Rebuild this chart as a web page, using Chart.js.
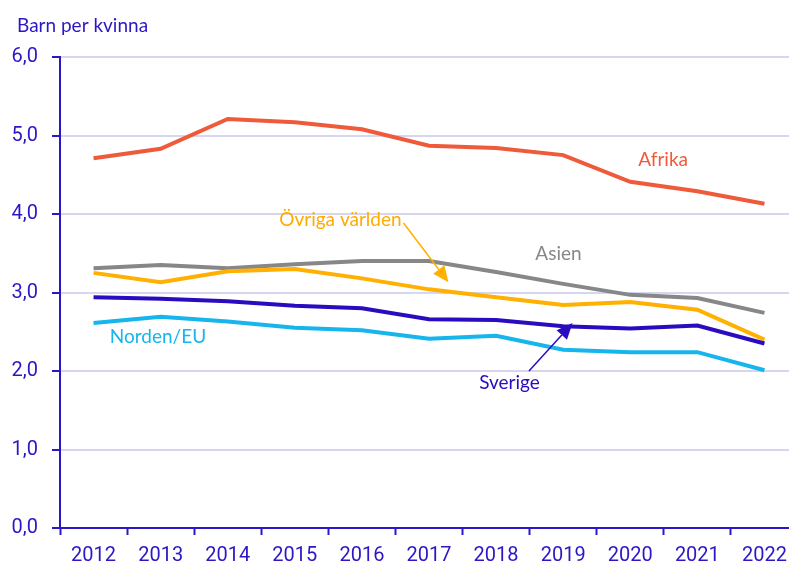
<!DOCTYPE html>
<html lang="sv">
<head>
    <meta charset="UTF-8">
    <title>Barn per kvinna</title>
    <script src="https://cdn.jsdelivr.net/npm/chart.js"></script>
    <style>
        html, body {
            margin: 0;
            padding: 0;
            background: #fff;
            overflow: hidden;
            width: 789px;
            height: 568px;
        }
        canvas { display: block; }
    </style>
</head>
<body>
    <canvas id="myChart" width="798" height="568"></canvas>

    <script>
        const years = ['2012', '2013', '2014', '2015', '2016', '2017', '2018', '2019', '2020', '2021', '2022'];
        const yTicks = [0, 1, 2, 3, 4, 5, 6];

        const afrika = [4.71, 4.83, 5.21, 5.17, 5.08, 4.87, 4.84, 4.75, 4.41, 4.29, 4.13];
        const asien = [3.31, 3.35, 3.31, 3.36, 3.40, 3.40, 3.26, 3.11, 2.97, 2.93, 2.74];
        const ovriga = [3.25, 3.13, 3.27, 3.30, 3.18, 3.04, 2.94, 2.84, 2.88, 2.78, 2.40];
        const sverige = [2.94, 2.92, 2.89, 2.83, 2.80, 2.66, 2.65, 2.57, 2.54, 2.58, 2.35];
        const nordenEU = [2.61, 2.69, 2.63, 2.55, 2.52, 2.41, 2.45, 2.27, 2.24, 2.24, 2.01];

        const axisBlue = '#2c17c6';
        const gridColor = '#d6d6f0';

        // etiketter vid linjerna (x = kategoriindex, y = värde)
        const labels = [
            { text: 'Afrika', x: 8.49, y: 4.69, color: '#ef5a3a' },
            { text: 'Asien', x: 6.93, y: 3.49, color: '#888888' },
            { text: 'Övriga världen', x: 3.68, y: 3.92, color: '#ffab00' },
            { text: 'Sverige', x: 6.2, y: 1.85, color: '#2b0bbf' },
            { text: 'Norden/EU', x: 0.96, y: 2.43, color: '#16b5ec' }
        ];
        const arrows = [
            { x1: 4.62, y1: 3.885, x2: 5.29, y2: 3.13, color: '#ffb000' },
            { x1: 6.49, y1: 2.0, x2: 7.14, y2: 2.61, color: '#2b0bbf' }
        ];

        const annotationPlugin = {
            id: 'annot',
            afterDatasetsDraw(chart) {
                const ctx = chart.ctx;
                const xs = chart.scales.x, ys = chart.scales.y;
                ctx.save();
                ctx.font = '19px Lato';
                ctx.fillStyle = axisBlue;
                ctx.textAlign = 'left';
                ctx.textBaseline = 'middle';
                ctx.fillText('Barn per kvinna', 17, 26);

                ctx.textAlign = 'center';
                labels.forEach(l => {
                    ctx.fillStyle = l.color;
                    ctx.fillText(l.text, xs.getPixelForValue(l.x), ys.getPixelForValue(l.y));
                });

                arrows.forEach(a => {
                    const x1 = xs.getPixelForValue(a.x1), y1 = ys.getPixelForValue(a.y1);
                    const x2 = xs.getPixelForValue(a.x2), y2 = ys.getPixelForValue(a.y2);
                    const ang = Math.atan2(y2 - y1, x2 - x1);
                    const len = 16, half = 7;
                    const bx = x2 - len * Math.cos(ang), by = y2 - len * Math.sin(ang);
                    ctx.strokeStyle = a.color;
                    ctx.fillStyle = a.color;
                    ctx.lineWidth = 1.5;
                    ctx.beginPath();
                    ctx.moveTo(x1, y1);
                    ctx.lineTo(bx, by);
                    ctx.stroke();
                    ctx.beginPath();
                    ctx.moveTo(x2, y2);
                    ctx.lineTo(bx + half * Math.sin(ang), by - half * Math.cos(ang));
                    ctx.lineTo(bx - half * Math.sin(ang), by + half * Math.cos(ang));
                    ctx.closePath();
                    ctx.fill();
                });
                ctx.restore();
            }
        };

        function serie(label, data, color) {
            return {
                label: label,
                data: data,
                borderColor: color,
                backgroundColor: color,
                borderWidth: 4,
                pointRadius: 0,
                tension: 0,
                fill: false
            };
        }

        new Chart(document.getElementById('myChart'), {
            type: 'line',
            data: {
                labels: years,
                datasets: [
                    serie('Norden/EU', nordenEU, '#16b5ec'),
                    serie('Sverige', sverige, '#2b0bbf'),
                    serie('Övriga världen', ovriga, '#ffb000'),
                    serie('Asien', asien, '#878787'),
                    serie('Afrika', afrika, '#ef5a3a')
                ]
            },
            options: {
                responsive: false,
                animation: false,
                layout: { padding: { top: 57, right: 0, bottom: 0, left: 0 } },
                plugins: {
                    legend: { display: false },
                    tooltip: { enabled: false }
                },
                scales: {
                    x: {
                        offset: true,
                        afterFit: s => { s.height = 40; },
                        grid: {
                            offset: true,
                            drawOnChartArea: false,
                            tickLength: 7,
                            tickColor: axisBlue,
                            tickWidth: 2
                        },
                        border: { color: axisBlue, width: 2 },
                        ticks: {
                            color: axisBlue,
                            font: { family: 'Roboto', size: 20 },
                            padding: 9,
                            maxRotation: 0
                        }
                    },
                    y: {
                        min: 0,
                        max: 6,
                        afterFit: s => { s.width = 60; },
                        afterBuildTicks: s => { s.ticks = yTicks.map(v => ({ value: v })); },
                        grid: {
                            color: gridColor,
                            lineWidth: 2,
                            tickLength: 8,
                            tickColor: axisBlue,
                            tickWidth: 2
                        },
                        border: { color: axisBlue, width: 2 },
                        ticks: {
                            color: axisBlue,
                            font: { family: 'Roboto', size: 20 },
                            padding: 14,
                            callback: v => v.toFixed(1).replace('.', ',')
                        }
                    }
                }
            },
            plugins: [annotationPlugin]
        });
    </script>
</body>
</html>
